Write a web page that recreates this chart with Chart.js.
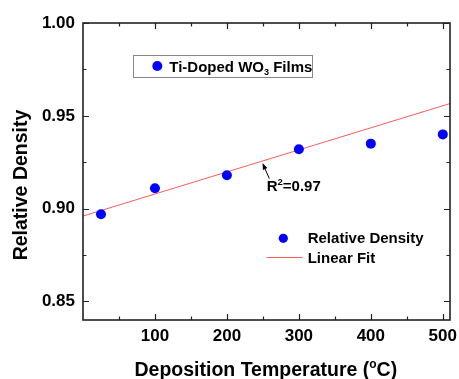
<!DOCTYPE html>
<html>
<head>
<meta charset="utf-8">
<script src="https://cdn.jsdelivr.net/npm/chart.js@4.4.1/dist/chart.umd.min.js"></script>
<style>
  body { margin: 0; background: #fff; }
  #wrap { width: 459px; height: 379px; }
</style>
</head>
<body>
<div id="wrap"><canvas id="density-chart" width="459" height="379"></canvas></div>
<script>
// deposition temperature (°C) and measured relative density
const temperatures = [25, 100, 200, 300, 400, 500];
const relativeDensity = [0.897, 0.911, 0.918, 0.932, 0.935, 0.940];

// linear fit line as drawn in the figure (its two ends)
const fitTemperatures = [0, 510];
const fitDensity = [0.896, 0.9566];

const xTicks = [100, 200, 300, 400, 500];
const xTickLabels = ['100', '200', '300', '400', '500'];
const xMinorTicks = [50, 150, 250, 350, 450];
const yTicks = [0.85, 0.90, 0.95, 1.00];
const yTickLabels = ['0.85', '0.90', '0.95', '1.00'];
const yMinorTicks = [0.875, 0.925, 0.975];

const FONT = '"Liberation Sans", Arial, sans-serif';
const BLUE = '#0000ff';
const FIT_RED = '#ff5a5a';

// draws text pieces one after another (for sub/superscripts)
function drawRich(ctx, parts, x, y, align) {
    let total = 0;
    parts.forEach(p => {
        ctx.font = `bold ${p.size}px ${FONT}`;
        p.w = ctx.measureText(p.text).width;
        total += p.w;
    });
    let cx = align === 'center' ? x - total / 2 : x;
    parts.forEach(p => {
        ctx.font = `bold ${p.size}px ${FONT}`;
        ctx.fillText(p.text, cx, y + (p.dy || 0));
        cx += p.w;
    });
}

const framePlugin = {
    id: 'frame',
    afterDraw(chart) {
        const { ctx, chartArea: a, scales: { x, y } } = chart;
        ctx.save();
        ctx.strokeStyle = '#222';

        // ticks on all four sides, pointing inward
        ctx.lineWidth = 1.2;
        ctx.beginPath();
        const xMark = (v, len) => {
            const px = Math.round(x.getPixelForValue(v)) + 0.5;
            ctx.moveTo(px, a.bottom); ctx.lineTo(px, a.bottom - len);
            ctx.moveTo(px, a.top); ctx.lineTo(px, a.top + len);
        };
        const yMark = (v, len) => {
            const py = Math.round(y.getPixelForValue(v)) + 0.5;
            ctx.moveTo(a.left, py); ctx.lineTo(a.left + len, py);
            ctx.moveTo(a.right, py); ctx.lineTo(a.right - len, py);
        };
        xTicks.forEach(v => xMark(v, 6));
        xMinorTicks.forEach(v => xMark(v, 3.5));
        yTicks.forEach(v => yMark(v, 6));
        yMinorTicks.forEach(v => yMark(v, 3.5));
        ctx.stroke();

        ctx.lineWidth = 1.6;
        ctx.strokeRect(a.left, a.top, a.right - a.left, a.bottom - a.top);

        ctx.fillStyle = '#000';
        ctx.textBaseline = 'alphabetic';
        ctx.textAlign = 'left';

        // boxed legend
        ctx.lineWidth = 1;
        ctx.strokeStyle = '#888';
        ctx.strokeRect(133.5, 55.5, 179, 22);
        ctx.fillStyle = BLUE;
        ctx.beginPath(); ctx.arc(157.3, 66, 5, 0, Math.PI * 2); ctx.fill();
        ctx.fillStyle = '#000';
        drawRich(ctx, [
            { text: 'Ti-Doped WO', size: 15 },
            { text: '3', size: 9, dy: 3 },
            { text: ' Films', size: 15 }
        ], 169.3, 71.5, 'left');

        // series legend
        ctx.fillStyle = BLUE;
        ctx.beginPath(); ctx.arc(283.3, 238.3, 4.6, 0, Math.PI * 2); ctx.fill();
        ctx.strokeStyle = FIT_RED;
        ctx.lineWidth = 1;
        ctx.beginPath(); ctx.moveTo(266.7, 257.5); ctx.lineTo(302.3, 257.5); ctx.stroke();
        ctx.fillStyle = '#000';
        drawRich(ctx, [{ text: 'Relative Density', size: 15 }], 307.7, 243, 'left');
        drawRich(ctx, [{ text: 'Linear Fit', size: 15 }], 307.7, 263, 'left');

        // R² note with arrow
        drawRich(ctx, [
            { text: 'R', size: 15 },
            { text: '2', size: 9.5, dy: -6 },
            { text: '=0.97', size: 15 }
        ], 266.7, 190.5, 'left');
        ctx.strokeStyle = '#000';
        ctx.lineWidth = 1;
        ctx.beginPath(); ctx.moveTo(269.3, 178.5); ctx.lineTo(263.5, 165.5); ctx.stroke();
        const ang = Math.atan2(163 - 178.5, 262.5 - 269.3);
        ctx.beginPath();
        ctx.moveTo(262.5, 163);
        ctx.lineTo(262.5 - 7 * Math.cos(ang - 0.35), 163 - 7 * Math.sin(ang - 0.35));
        ctx.lineTo(262.5 - 7 * Math.cos(ang + 0.35), 163 - 7 * Math.sin(ang + 0.35));
        ctx.closePath();
        ctx.fill();

        // axis titles
        drawRich(ctx, [
            { text: 'Deposition Temperature (', size: 19.5 },
            { text: 'o', size: 12, dy: -8 },
            { text: 'C)', size: 19.5 }
        ], 265.8, 376, 'center');

        ctx.save();
        ctx.translate(27, 185);
        ctx.rotate(-Math.PI / 2);
        drawRich(ctx, [{ text: 'Relative Density', size: 19.5 }], 0, 0, 'center');
        ctx.restore();

        ctx.restore();
    }
};

const chart = new Chart(document.getElementById('density-chart'), {
    type: 'scatter',
    data: {
        datasets: [
            {
                label: 'Relative Density',
                data: temperatures.map((t, i) => ({ x: t, y: relativeDensity[i] })),
                backgroundColor: BLUE,
                borderColor: BLUE,
                pointRadius: 5,
                pointBorderWidth: 0,
                order: 1
            },
            {
                label: 'Linear Fit',
                data: fitTemperatures.map((t, i) => ({ x: t, y: fitDensity[i] })),
                showLine: true,
                borderColor: FIT_RED,
                borderWidth: 1,
                pointRadius: 0,
                order: 2
            }
        ]
    },
    options: {
        responsive: false,
        animation: false,
        layout: { padding: { left: 0, top: 23, right: 9, bottom: 0 } },
        plugins: {
            legend: { display: false },
            tooltip: { enabled: false }
        },
        scales: {
            x: {
                type: 'linear',
                min: 0,
                max: 510,
                grid: { display: false, drawTicks: false },
                border: { display: false },
                afterBuildTicks: scale => { scale.ticks = xTicks.map(v => ({ value: v })); },
                afterFit: scale => {
                    scale.height = 59;
                    scale.paddingLeft = 0;
                    scale.paddingRight = 0;
                },
                ticks: {
                    autoSkip: false,
                    maxRotation: 0,
                    padding: 6,
                    color: '#000',
                    font: { family: FONT, size: 17, weight: 'bold' },
                    callback: (value, index) => xTickLabels[index]
                }
            },
            y: {
                type: 'linear',
                min: 0.84,
                max: 1.00,
                grid: { display: false, drawTicks: false },
                border: { display: false },
                afterBuildTicks: scale => { scale.ticks = yTicks.map(v => ({ value: v })); },
                afterFit: scale => {
                    scale.width = 83;
                    scale.paddingTop = 0;
                    scale.paddingBottom = 0;
                },
                ticks: {
                    autoSkip: false,
                    padding: 8,
                    color: '#000',
                    font: { family: FONT, size: 17, weight: 'bold' },
                    callback: (value, index) => yTickLabels[index]
                }
            }
        }
    },
    plugins: [framePlugin]
});
</script>
</body>
</html>
